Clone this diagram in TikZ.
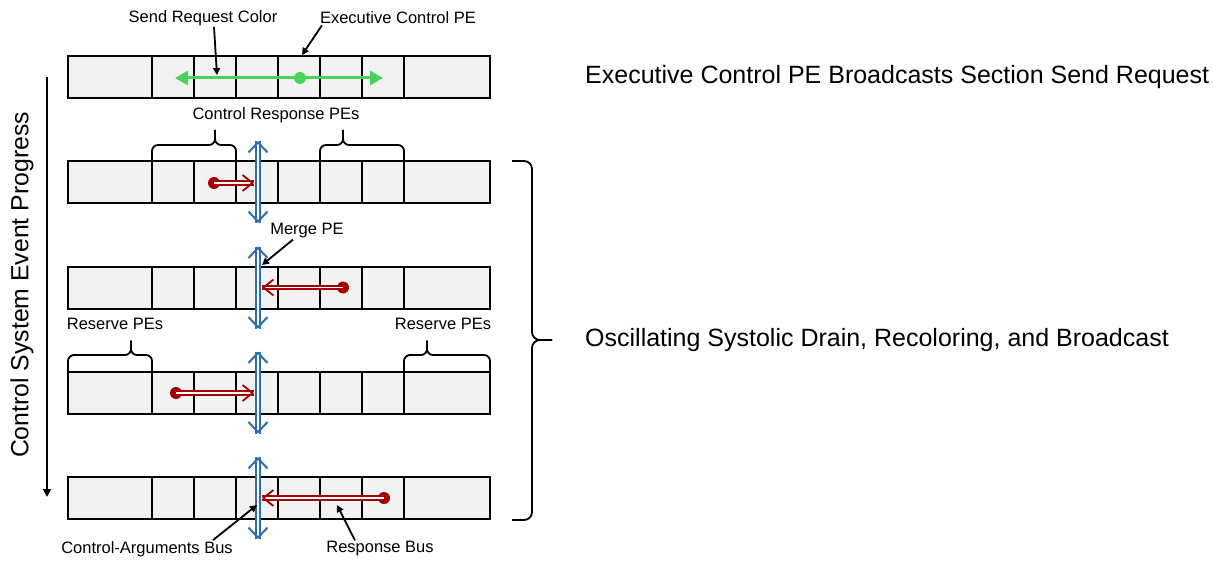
\documentclass[tikz,border=0pt]{standalone}
\usepackage{fontspec}
\setmainfont{Liberation Sans}
\usetikzlibrary{arrows.meta}
\definecolor{cellgray}{RGB}{242,242,242}
\definecolor{busblue}{RGB}{46,110,170}
\definecolor{respred}{RGB}{165,0,0}
\definecolor{sendgreen}{RGB}{75,210,90}
\begin{document}
\begin{tikzpicture}[x=1pt,y=-1pt,
  cellbox/.style={draw=black,fill=cellgray,line width=2pt},
  busshaft/.style={draw=busblue,line width=2pt,double=white,double distance=2pt},
  bustip/.style={draw=busblue,line width=2pt,-{Straight Barb[length=10pt,width=19pt]}},
  respshaft/.style={draw=respred,line width=1.8pt,double=white,double distance=1.8pt},
  resptip/.style={draw=respred,line width=1.8pt,-{Straight Barb[length=10pt,width=16pt]}},
  respdot/.style={circle,fill=respred,inner sep=0pt,minimum size=12pt},
  greendot/.style={circle,fill=sendgreen,inner sep=0pt,minimum size=12pt},
  ptr/.style={line width=1.8pt,-{Triangle[length=7pt,width=7pt]}},
  lbl/.style={font=\fontsize{16.5}{18}\selectfont,inner sep=1pt},
  biglbl/.style={font=\fontsize{25}{28}\selectfont,anchor=west,inner sep=0pt},
  bracepath/.style={line width=1.8pt,rounded corners=6pt}]
\useasboundingbox (0,0) rectangle (1214,561);

% rows of cells
\foreach \t in {56,161,266.5,371.5,477}{
  \foreach \a/\b in {68/152,152/194,194/236,236/278,278/320,320/362,362/404,404/490}{
    \draw[cellbox] (\a,\t) rectangle (\b,{\t+42});
  }
}

% row 1: send request broadcast
\node[greendot] (ecpe) at (300,78) {};
\coordinate (gl) at (175,78);
\coordinate (gr) at (383,78);
\draw[sendgreen,line width=3pt,-{Triangle[length=13pt,width=14pt]}] (ecpe) -- (gl);
\draw[sendgreen,line width=3pt,-{Triangle[length=13pt,width=14pt]}] (ecpe) -- (gr);

\node[lbl] (srclbl) at (203,18) {Send Request Color};
\node[lbl] (ecplbl) at (398,18) {Executive Control PE};
\coordinate (srctip) at (217,75);
\coordinate (ecptip) at (302,55);
\draw[ptr] ([xshift=11pt]srclbl.south) -- (srctip);
\draw[ptr] ([xshift=-76pt]ecplbl.south) -- (ecptip);

% buses (double lines with open heads)
\foreach \n/\c in {2/182,3/287.5,4/392.5,5/498}{
  \coordinate (b\n t) at (258,{\c-41});
  \coordinate (b\n b) at (258,{\c+41});
  \draw[busshaft] (b\n t) -- (b\n b);
  \draw[bustip] ([yshift=-1.5pt]b\n t) -- (b\n t);
  \draw[bustip] ([yshift=1.5pt]b\n b) -- (b\n b);
}

% row 2
\node[lbl] (crlbl) at (276,115) {Control Response PEs};
\draw[bracepath] (152,161) -- (152,145) -- (215,145) -- (215,130);
\draw[bracepath] (236,161) -- (236,145) -- (215,145) -- (215,130);
\draw[bracepath] (320,161) -- (320,145) -- (343,145) -- (343,130);
\draw[bracepath] (404,161) -- (404,145) -- (343,145) -- (343,130);
\node[respdot] (d2) at (214,183) {};
\coordinate (t2) at (254,183);
\draw[respshaft] (d2.center) -- (t2);
\draw[resptip] ([xshift=-1.5pt]t2) -- (t2);

% row 3
\node[lbl] (mglbl) at (307,231) {Merge PE};
\node[respdot] (d3) at (343,287.5) {};
\coordinate (t3) at (262,287.5);
\draw[respshaft] (d3.center) -- (t3);
\draw[resptip] ([xshift=1.5pt]t3) -- (t3);
\coordinate (mgtip) at (262,265);
\draw[ptr] ([xshift=-14pt]mglbl.south) -- (mgtip);

% row 4
\node[lbl] (rsl) at (115,324) {Reserve PEs};
\node[lbl] (rsr) at (443,324) {Reserve PEs};
\draw[bracepath] (68,371.5) -- (68,355) -- (131,355) -- (131,340.5);
\draw[bracepath] (152,371.5) -- (152,355) -- (131,355) -- (131,340.5);
\draw[bracepath] (404,371.5) -- (404,355) -- (427,355) -- (427,340.5);
\draw[bracepath] (490,371.5) -- (490,355) -- (427,355) -- (427,340.5);
\node[respdot] (d4) at (176,393) {};
\coordinate (t4) at (254,393);
\draw[respshaft] (d4.center) -- (t4);
\draw[resptip] ([xshift=-1.5pt]t4) -- (t4);

% row 5
\node[respdot] (d5) at (384,498) {};
\coordinate (t5) at (262,498);
\draw[respshaft] (d5.center) -- (t5);
\draw[resptip] ([xshift=1.5pt]t5) -- (t5);
\node[lbl] (calbl) at (147,549) {Control-Arguments Bus};
\node[lbl] (rblbl) at (380,549) {Response Bus};
\coordinate (catip) at (257,505);
\coordinate (rbtip) at (337,505);
\draw[ptr] ([xshift=66pt]calbl.north) -- (catip);
\draw[ptr] ([xshift=-25pt]rblbl.north) -- (rbtip);

% progress arrow
\node[rotate=90,font=\fontsize{24.8}{28}\selectfont,inner sep=0pt] (prog) at (22,285) {Control System Event Progress};
\coordinate (pa) at (47,77);
\coordinate (pb) at (47,497);
\draw[line width=1.8pt,-{Triangle[length=8pt,width=8pt]}] (pa) -- (pb);

% right brace
\draw[bracepath,rounded corners=8pt] (512,161) -- (532,161) -- (532,340) -- (552,340);
\draw[bracepath,rounded corners=8pt] (512,520) -- (532,520) -- (532,340) -- (552,340);

% right texts
\node[biglbl] (t1) at (585,77) {Executive Control PE Broadcasts Section Send Request};
\node[biglbl] (t2r) at (585,340) {Oscillating Systolic Drain, Recoloring, and Broadcast};
\end{tikzpicture}
\end{document}
